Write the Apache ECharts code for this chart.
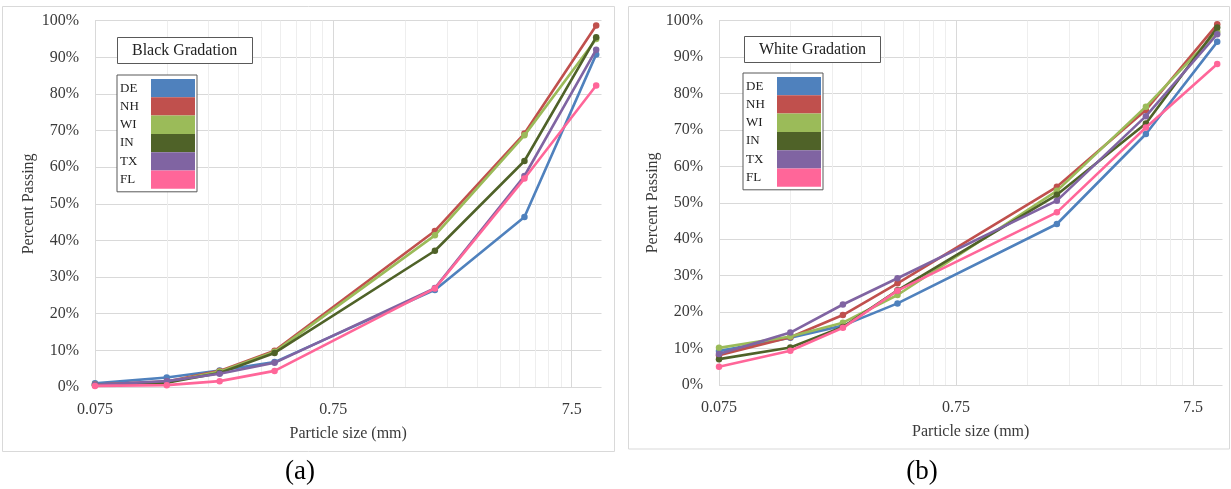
<!DOCTYPE html>
<html>
<head>
<meta charset="utf-8">
<script src="https://cdn.jsdelivr.net/npm/echarts@6/dist/echarts.min.js"></script>
<style>
  html, body { margin: 0; padding: 0; background: #ffffff; }
  #chart { width: 1231px; height: 489px; }
</style>
</head>
<body>
<div id="chart"></div>
<script>
// Sieve sizes (mm) shared by both gradations
const sieveSizes = [0.075, 0.15, 0.25, 0.425, 2.0, 4.75, 9.5];

// Major tick labels on the log axis
const majorTicks = [0.075, 0.75, 7.5];

const states = ['DE', 'NH', 'WI', 'IN', 'TX', 'FL'];
const stateColors = ['#4f81bd', '#c0504d', '#9bbb59', '#4f6228', '#8064a2', '#ff6699'];

// Percent passing, black gradation
const blackDE = [1.0, 2.6, 4.5, 6.8, 26.5, 46.4, 90.8];
const blackNH = [0.7, 1.5, 4.4, 9.9, 42.6, 69.2, 98.7];
const blackWI = [0.6, 1.3, 4.2, 9.6, 41.4, 68.7, 95.0];
const blackIN = [0.5, 1.2, 3.8, 9.3, 37.2, 61.7, 95.5];
const blackTX = [0.6, 1.6, 3.6, 6.6, 27.0, 57.6, 92.1];
const blackFL = [0.3, 0.5, 1.6, 4.4, 26.9, 56.9, 82.3];

// Percent passing, white gradation
const whiteDE = [9.3, 13.0, 16.3, 22.4, 44.2, 68.9, 94.2];
const whiteNH = [8.2, 13.1, 19.2, 27.9, 54.4, 75.5, 99.0];
const whiteWI = [10.2, 13.3, 17.1, 24.7, 53.3, 76.4, 97.0];
const whiteIN = [7.1, 10.3, 15.9, 26.0, 52.2, 71.8, 98.1];
const whiteTX = [8.5, 14.4, 22.1, 29.3, 50.6, 73.8, 96.3];
const whiteFL = [5.0, 9.4, 15.7, 25.9, 47.4, 70.7, 88.1];

const blackSets = [blackDE, blackNH, blackWI, blackIN, blackTX, blackFL];
const whiteSets = [whiteDE, whiteNH, whiteWI, whiteIN, whiteTX, whiteFL];

const SERIF = '"Liberation Serif", "Times New Roman", serif';
const LABEL_COLOR = '#3a3a3a';
const MAJOR_GRID = '#d9d9d9';
const MINOR_GRID = '#eeeeee';

// Vertical grid lines: each major value followed by its 2x..9x multiples
const gridValues = [];
majorTicks.forEach(function (m) {
  gridValues.push(m);
  for (let k = 2; k <= 9; k++) {
    const v = +(m * k).toPrecision(4);
    if (v <= 10) gridValues.push(v);
  }
});
const gridColors = [MAJOR_GRID].concat(new Array(8).fill(MINOR_GRID));

const grids = [
  { left: 95, top: 20.7, width: 506.5, height: 366.3 },
  { left: 719, top: 20.7, width: 503.5, height: 364.3 }
];

function makeXAxis(gridIndex) {
  return {
    type: 'log',
    logBase: 10,
    gridIndex: gridIndex,
    min: 0.075,
    max: 10,
    axisLine: { show: false },
    axisTick: { show: false, customValues: gridValues },
    axisLabel: {
      customValues: majorTicks,
      formatter: function (v) { return String(+(+v).toPrecision(3)); },
      margin: 15,
      fontFamily: SERIF,
      fontSize: 16,
      color: LABEL_COLOR
    },
    splitLine: { show: true, lineStyle: { color: gridColors, width: 1 } },
    name: 'Particle size (mm)',
    nameLocation: 'middle',
    nameGap: 39,
    nameTextStyle: { fontFamily: SERIF, fontSize: 16, color: LABEL_COLOR }
  };
}

function makeYAxis(gridIndex) {
  return {
    type: 'value',
    gridIndex: gridIndex,
    min: 0,
    max: 100,
    interval: 10,
    axisLine: { show: false },
    axisTick: { show: false },
    axisLabel: {
      formatter: '{value}%',
      margin: 16,
      fontFamily: SERIF,
      fontSize: 16,
      color: LABEL_COLOR
    },
    splitLine: { show: true, lineStyle: { color: MAJOR_GRID, width: 1 } },
    name: 'Percent Passing',
    nameLocation: 'middle',
    nameRotate: 90,
    nameGap: 58,
    nameTextStyle: { fontFamily: SERIF, fontSize: 16, color: LABEL_COLOR }
  };
}

function makeSeries(sets, gridIndex) {
  return sets.map(function (vals, i) {
    return {
      name: states[i],
      type: 'line',
      xAxisIndex: gridIndex,
      yAxisIndex: gridIndex,
      data: sieveSizes.map(function (s, j) { return [s, vals[j]]; }),
      symbol: 'circle',
      symbolSize: 6.5,
      color: stateColors[i],
      itemStyle: { color: stateColors[i] },
      lineStyle: { width: 2.6, color: stateColors[i] },
      emphasis: { disabled: true },
      z: 3 + i
    };
  });
}

function makeLegend(left, top) {
  return {
    left: left,
    top: top,
    orient: 'vertical',
    align: 'right',
    icon: 'rect',
    itemWidth: 44,
    itemHeight: 18.3,
    itemGap: 0,
    padding: [4, 2, 3, 3],
    borderColor: '#595959',
    borderWidth: 1,
    backgroundColor: '#ffffff',
    selectedMode: false,
    itemStyle: { borderWidth: 0 },
    formatter: '{n|{name}}',
    textStyle: {
      rich: {
        n: { width: 26, align: 'left', fontFamily: SERIF, fontSize: 13, color: '#222222' }
      }
    },
    data: states
  };
}

function makeTitleBox(text, left, top) {
  return {
    text: text,
    left: left,
    top: top,
    padding: [6, 15, 5, 15],
    borderColor: '#595959',
    borderWidth: 1,
    backgroundColor: '#ffffff',
    textStyle: { fontFamily: SERIF, fontSize: 16, fontWeight: 'normal', color: '#222222' }
  };
}

const chart = echarts.init(document.getElementById('chart'), null, { renderer: 'canvas' });

chart.setOption({
  animation: false,
  backgroundColor: '#ffffff',
  title: [
    makeTitleBox('Black Gradation', 117, 37),
    makeTitleBox('White Gradation', 744, 36)
  ],
  legend: [makeLegend(117, 75), makeLegend(743, 73)],
  grid: grids,
  xAxis: [makeXAxis(0), makeXAxis(1)],
  yAxis: [makeYAxis(0), makeYAxis(1)],
  series: makeSeries(blackSets, 0).concat(makeSeries(whiteSets, 1)),
  graphic: [
    { type: 'rect', z: -10, shape: { x: 2.5, y: 6.5, width: 612, height: 445 },
      style: { fill: 'none', stroke: '#d9d9d9', lineWidth: 1 } },
    { type: 'rect', z: -10, shape: { x: 628.5, y: 6.5, width: 601, height: 442.5 },
      style: { fill: 'none', stroke: '#d9d9d9', lineWidth: 1 } },
    { type: 'text', x: 300, y: 472,
      style: { text: '(a)', font: '27px ' + SERIF, fill: '#000000', align: 'center', verticalAlign: 'middle' } },
    { type: 'text', x: 922, y: 472,
      style: { text: '(b)', font: '27px ' + SERIF, fill: '#000000', align: 'center', verticalAlign: 'middle' } }
  ]
});
</script>
</body>
</html>
